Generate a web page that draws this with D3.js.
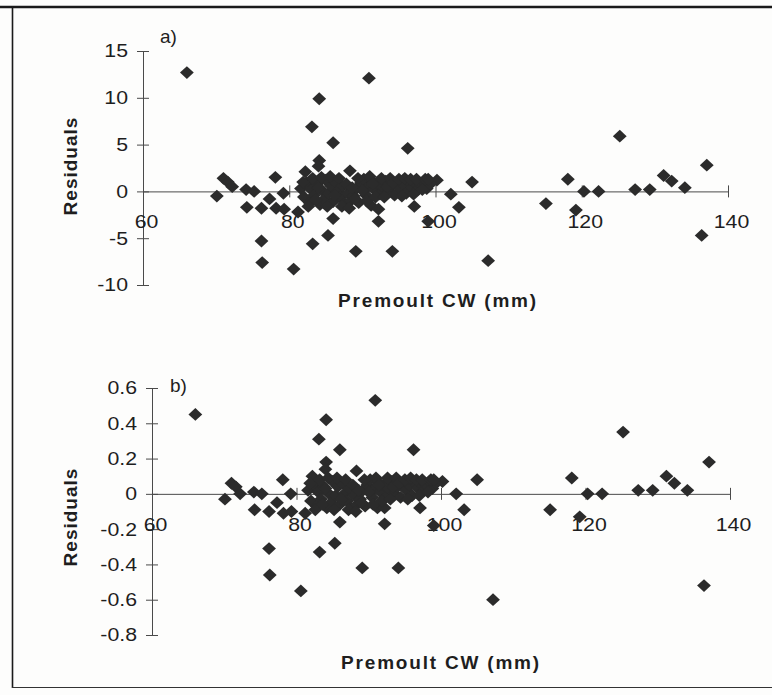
<!DOCTYPE html>
<html>
<head>
<meta charset="utf-8">
<script src="https://cdn.jsdelivr.net/npm/d3@7/dist/d3.min.js"></script>
<style>
  html, body { margin: 0; padding: 0; background: #fdfdfc; }
  svg { display: block; }
  text { font-family: "Liberation Sans", Arial, sans-serif; fill: #1e1e1e; }
</style>
</head>
<body>
<svg id="chart" width="772" height="695"></svg>
<script>
// Premoult carapace width (mm) for each crab; shared by both residual plots
const premoultCW = [
  66.0, 70.1, 71.0, 71.6, 72.2, 74.1, 75.2, 74.2, 76.2, 77.3,
  78.1, 78.2, 79.2, 79.3, 76.2, 76.3, 80.6, 81.2, 82.2, 83.1,
  84.1, 84.1, 84.0, 86.0, 88.3, 86.0, 85.3, 83.2, 89.1, 90.9,
  91.2, 92.2, 92.2, 94.1, 96.2, 97.1, 99.0, 100.2, 102.1, 103.2,
  105.0, 107.2, 115.1, 118.1, 119.2, 120.3, 122.3, 125.2, 127.3, 129.3,
  131.2, 132.3, 134.1, 137.1, 136.4,
  81.6, 82.0, 82.4, 82.8, 83.0, 83.4, 83.8, 84.2, 84.5, 84.8,
  85.0, 85.4, 85.7, 86.0, 86.3, 86.6, 87.0, 87.3, 87.6, 88.0,
  88.4, 88.8, 89.2, 89.5, 89.8, 90.2, 90.5, 90.8, 91.2, 91.6,
  92.0, 92.4, 92.8, 93.2, 93.6, 94.0, 94.4, 94.8, 95.2, 95.6,
  96.0, 96.4, 96.8, 97.2, 97.6, 98.0, 98.4, 98.8, 99.3,
  81.9, 82.6, 83.2, 83.6, 84.0, 84.4, 85.2, 85.6, 86.2, 86.8,
  87.2, 87.8, 88.2, 88.6, 89.0, 89.4, 90.0, 90.6, 91.0, 91.4,
  91.8, 92.6, 93.0, 93.4, 93.8, 94.2, 95.0, 95.4, 95.8, 96.6,
  97.0, 97.4, 98.2, 98.6, 99.0
];

// a) residuals of the linear moult-increment model
const residualsA = [
  12.7, -0.5, 1.4, 1.0, 0.5, 0.2, 0.0, -1.7, -1.8, -0.8,
  1.5, -1.8, -0.2, -1.9, -5.3, -7.6, -8.3, -2.2, 2.1, 6.9,
  9.9, 3.3, 2.7, 5.2, 2.2, -2.9, -4.7, -5.6, -6.4, 12.1,
  -1.5, -1.9, -3.2, -6.4, 4.6, -1.6, -3.2, 1.2, -0.3, -1.7,
  1.0, -7.4, -1.3, 1.3, -2.0, 0.0, 0.0, 5.9, 0.2, 0.2,
  1.7, 1.1, 0.4, 2.8, -4.7,
  0.3, -0.6, 0.9, -1.2, 0.2, -0.4, 0.8, -1.4, 0.1, -0.8,
  1.2, -0.2, 0.6, -1.1, 1.0, 0.0, -0.6, 0.6, -1.3, -0.2,
  -1.0, -0.5, 0.3, -1.2, 0.9, 1.3, -0.4, 0.5, 1.2, 0.2,
  0.9, -0.3, 0.5, 1.1, 0.0, 0.6, -0.4, 1.0, 0.3, 0.8,
  -0.2, 1.0, 0.4, 0.9, 0.2, 0.7, 1.0, 0.3, 0.8,
  1.0, -1.6, 1.4, -0.9, 0.4, 1.5, -1.6, 1.6, -0.4, 1.4,
  -1.6, 0.8, -1.8, 0.4, -0.8, 1.4, 0.1, -1.0, 1.6, 0.8,
  -0.6, 1.4, -0.6, 0.5, 1.4, 0.9, 1.3, -0.5, 1.4, 1.3,
  -0.3, 1.3, 0.2, 1.3, 1.3
];

// b) residuals of the log-transformed model
const residualsB = [
  0.45, -0.03, 0.06, 0.04, 0.00, 0.01, 0.00, -0.09, -0.10, -0.05,
  0.08, -0.11, 0.00, -0.10, -0.31, -0.46, -0.55, -0.11, 0.10, 0.31,
  0.42, 0.18, 0.14, 0.25, 0.13, -0.16, -0.28, -0.33, -0.42, 0.53,
  -0.08, -0.08, -0.17, -0.42, 0.25, -0.08, -0.18, 0.07, 0.00, -0.09,
  0.08, -0.60, -0.09, 0.09, -0.13, 0.00, 0.00, 0.35, 0.02, 0.02,
  0.10, 0.06, 0.02, 0.18, -0.52,
  0.02, -0.04, 0.05, -0.07, 0.01, -0.03, 0.04, -0.08, 0.00, -0.05,
  0.07, -0.01, 0.04, -0.06, 0.06, 0.00, -0.04, 0.03, -0.08, -0.01,
  -0.06, -0.03, 0.02, -0.07, 0.05, 0.08, -0.02, 0.03, 0.07, 0.01,
  0.05, -0.02, 0.03, 0.07, 0.00, 0.04, -0.02, 0.06, 0.02, 0.05,
  -0.01, 0.06, 0.03, 0.06, 0.02, 0.05, 0.07, 0.03, 0.06,
  0.06, -0.09, 0.08, -0.06, 0.03, 0.09, -0.09, 0.09, -0.03, 0.08,
  -0.09, 0.05, -0.10, 0.02, -0.05, 0.08, 0.01, -0.06, 0.09, 0.05,
  -0.04, 0.09, -0.03, 0.04, 0.09, 0.06, 0.08, -0.03, 0.09, 0.08,
  -0.01, 0.08, 0.01, 0.08, 0.08
];

const xTicks = [60, 80, 100, 120, 140];
const yTicksA = [-10, -5, 0, 5, 10, 15];
const yTicksB = [-0.8, -0.6, -0.4, -0.2, 0, 0.2, 0.4, 0.6];

const svg = d3.select("#chart");
const axisColor = "#4a4a4a";
const markColor = "#2b2b2b";
const stretch = 1.15;   // tick labels are set in a slightly wide face

// outer frame (top, left and bottom rules)
svg.append("line").attr("x1", 0).attr("x2", 772).attr("y1", 7).attr("y2", 7)
  .attr("stroke", "#1a1a1a").attr("stroke-width", 2.5);
svg.append("line").attr("x1", 12.5).attr("x2", 12.5).attr("y1", 6).attr("y2", 688)
  .attr("stroke", "#1a1a1a").attr("stroke-width", 1.6);
svg.append("line").attr("x1", 12).attr("x2", 772).attr("y1", 687.5).attr("y2", 687.5)
  .attr("stroke", "#333").attr("stroke-width", 1.2);

const diamond = (cx, cy) =>
  `M${cx},${cy - 6.4}L${cx + 6.9},${cy}L${cx},${cy + 6.4}L${cx - 6.9},${cy}Z`;

function panel(cfg) {
  const x = d3.scaleLinear().domain([60, 140]).range(cfg.xRange);
  const y = d3.scaleLinear().domain(cfg.yDomain).range(cfg.yRange);
  const g = svg.append("g");
  const fmt = d => String(+d.toFixed(2));

  // vertical axis with ticks crossing the line
  const ya = g.append("g").attr("transform", `translate(${x(60)},0)`)
    .call(d3.axisLeft(y).tickValues(cfg.yTicks).tickFormat(fmt).tickSize(6).tickPadding(9));
  ya.select(".domain").attr("stroke", axisColor).attr("stroke-width", 1)
    .attr("d", `M0.5,${y(cfg.yDomain[1])}V${y(cfg.yDomain[0])}`);
  ya.selectAll(".tick line").attr("x1", -6).attr("x2", 6).attr("stroke", axisColor);
  ya.selectAll(".tick text").attr("font-size", 18.5).attr("font-family", "Liberation Sans, Arial, sans-serif")
    .attr("fill", "#1e1e1e").attr("x", -15 / stretch).attr("transform", `scale(${stretch},1)`);

  // horizontal axis drawn through zero
  const xa = g.append("g").attr("transform", `translate(0,${y(0)})`)
    .call(d3.axisBottom(x).tickValues(xTicks).tickFormat(d3.format("d")).tickSize(6));
  xa.select(".domain").attr("stroke", axisColor).attr("stroke-width", 1)
    .attr("d", `M${x(60)},0.5H${x(140)}`);
  xa.selectAll(".tick line").attr("y1", -6).attr("y2", 6).attr("stroke", axisColor)
    .attr("display", d => d === 60 ? "none" : null);
  xa.selectAll(".tick text").attr("font-size", 18.5).attr("font-family", "Liberation Sans, Arial, sans-serif")
    .attr("fill", "#1e1e1e").attr("dy", null).attr("y", 37).attr("x", 3 / stretch)
    .attr("transform", `scale(${stretch},1)`);

  // residual points
  g.append("g").selectAll("path")
    .data(premoultCW.map((cw, i) => [cw, cfg.values[i]]))
    .join("path")
    .attr("d", d => diamond(x(d[0]), y(d[1])))
    .attr("fill", markColor);

  // panel letter
  g.append("text").attr("x", cfg.letterPos[0]).attr("y", cfg.letterPos[1])
    .attr("font-size", 19).text(cfg.letter);

  // axis titles
  g.append("text")
    .attr("transform", `translate(${cfg.yTitlePos[0]},${cfg.yTitlePos[1]}) rotate(-90)`)
    .attr("text-anchor", "middle").attr("font-size", 19).attr("font-weight", "bold")
    .attr("letter-spacing", 1).text("Residuals");
  g.append("text").attr("x", cfg.xTitlePos[0]).attr("y", cfg.xTitlePos[1])
    .attr("text-anchor", "middle").attr("font-size", 19).attr("font-weight", "bold")
    .attr("letter-spacing", 1.8).text("Premoult CW (mm)");
}

panel({
  values: residualsA, yDomain: [-10, 15], yTicks: yTicksA,
  xRange: [143, 728], yRange: [285, 51],
  letter: "a)", letterPos: [160, 43],
  yTitlePos: [77, 166], xTitlePos: [438, 307]
});

panel({
  values: residualsB, yDomain: [-0.8, 0.6], yTicks: yTicksB,
  xRange: [152, 730], yRange: [635, 388],
  letter: "b)", letterPos: [170, 392],
  yTitlePos: [77, 517], xTitlePos: [441, 669]
});
</script>
</body>
</html>
